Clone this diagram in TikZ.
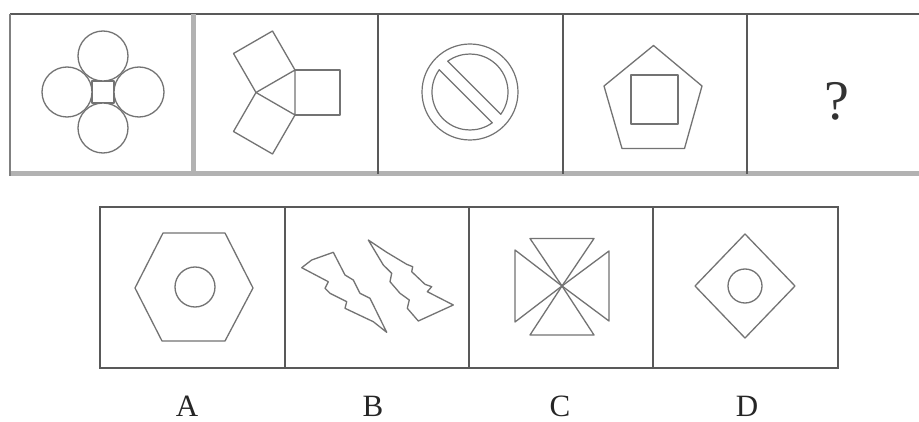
\documentclass[tikz,border=0pt]{standalone}
\usepackage{fontspec}
\setmainfont{Liberation Serif}
\usetikzlibrary{calc}
\begin{document}
\begin{tikzpicture}[x=1pt,y=-1pt,
  frame/.style={draw=black!65,line width=1.4pt},
  band/.style={draw=black!30,line width=5pt},
  fig/.style={draw=black!55,line width=1.3pt,line join=round},
  lab/.style={font=\fontsize{31}{33}\selectfont,text=black!85,inner sep=0pt,anchor=base}]
\useasboundingbox (0,0) rectangle (919,422);
\fill[white] (0,0) rectangle (919,422);
% ---- top row frame
\draw[band] (10,174) -- (930,174);
\draw[frame] (10,14) -- (930,14);
\draw[frame,draw=black!50,line width=2.4pt] (10,14) -- (10,176);
\draw[band,line width=5pt] (193,14) -- (193,174);
\foreach \xx in {378,563,747} \draw[frame,line width=1.6pt] (\xx,14) -- (\xx,174);
% ---- cell 1: four circles and small square
\coordinate (f) at (103,92);
\draw[fig] (92,81) rectangle (114,103);
\foreach \dx/\dy in {0/-36,0/36,-36/0,36/0}
  \draw[fig,fill=white] ($(f)+(\dx,\dy)$) circle[radius=25pt];
% ---- cell 2: triangle with three squares
\coordinate (tL) at (256,92.5);
\coordinate (tT) at (295,70);
\coordinate (tB) at (295,115);
\draw[fig] (tL) -- (tT) -- (tB) -- cycle;
\draw[fig] (tT) -- (340,70) -- (340,115) -- (tB);
\draw[fig] (tL) -- (233.5,53.5) -- (272.5,31) -- (tT);
\draw[fig] (tL) -- (233.5,131.5) -- (272.5,154) -- (tB);
% ---- cell 3: circle with band
\coordinate (nc) at (470,92);
\draw[fig,line width=1.2pt] (nc) circle[radius=48pt];
\draw[fig,line width=1.2pt] (nc) ++(-35.9:38pt) arc[start angle=-35.9,end angle=125.9,radius=38pt] -- cycle;
\draw[fig,line width=1.2pt] (nc) ++(144.1:38pt) arc[start angle=144.1,end angle=305.9,radius=38pt] -- cycle;
% ---- cell 4: pentagon with square
\draw[fig] (653.5,45.5) -- (702,86) -- (684.5,148.5) -- (622,148.5) -- (604,86) -- cycle;
\draw[fig] (631,75) rectangle (678,124);
% ---- cell 5: question mark
\node[font=\fontsize{56}{60}\selectfont,text=black!80,inner sep=0pt] (q) at (837,101) {?};
% ---- bottom row frame
\draw[frame] (100,207) rectangle (838,368);
\draw[frame,line width=2.6pt] (100,206) -- (100,369);
\foreach \xx in {285,469,653} \draw[frame] (\xx,207) -- (\xx,368);
% ---- option A
\draw[fig] (135,288) -- (163,233) -- (225,233) -- (253,288) -- (225,341) -- (162,341) -- cycle;
\draw[fig] (195,287) circle[radius=20pt];
% ---- option B: two lightning bolts
\draw[fig] (301.7,267.7) -- (311.7,260) -- (333.3,252.3) -- (345,275) -- (353.3,280) -- (360,293.3)
  -- (370,298.3) -- (386.7,332.3) -- (373.3,321.7) -- (345,308.3) -- (346.7,301.7) -- (330,293.3)
  -- (325,288.3) -- (328.3,281.7) -- cycle;
\draw[fig] (368.3,240) -- (386.7,252.3) -- (406.7,264.3) -- (412.7,266.7) -- (411.7,271.7) -- (425,284.3)
  -- (431.7,286.7) -- (427.3,291.7) -- (453.3,305) -- (418.3,321) -- (407.3,308.3) -- (409.3,300)
  -- (400,293.3) -- (390,281.7) -- (391.7,273.3) -- (383.3,265) -- cycle;
% ---- option C: four triangles meeting at centre
\coordinate (cc) at (562,286);
\draw[fig] (cc) -- (530,238.5) -- (594,238.5) -- cycle;
\draw[fig] (cc) -- (530,335) -- (594,335) -- cycle;
\draw[fig] (cc) -- (515,250) -- (515,322) -- cycle;
\draw[fig] (cc) -- (609,251) -- (609,321) -- cycle;
% ---- option D: diamond with circle
\draw[fig] (745,234) -- (795,286) -- (745,338) -- (695,286) -- cycle;
\draw[fig] (745,286) circle[radius=17pt];
% ---- labels
\node[lab] (la) at (187,416) {A};
\node[lab] (lb) at (373,416) {B};
\node[lab] (lc) at (560,416) {C};
\node[lab] (ld) at (747,416) {D};
\end{tikzpicture}
\end{document}
